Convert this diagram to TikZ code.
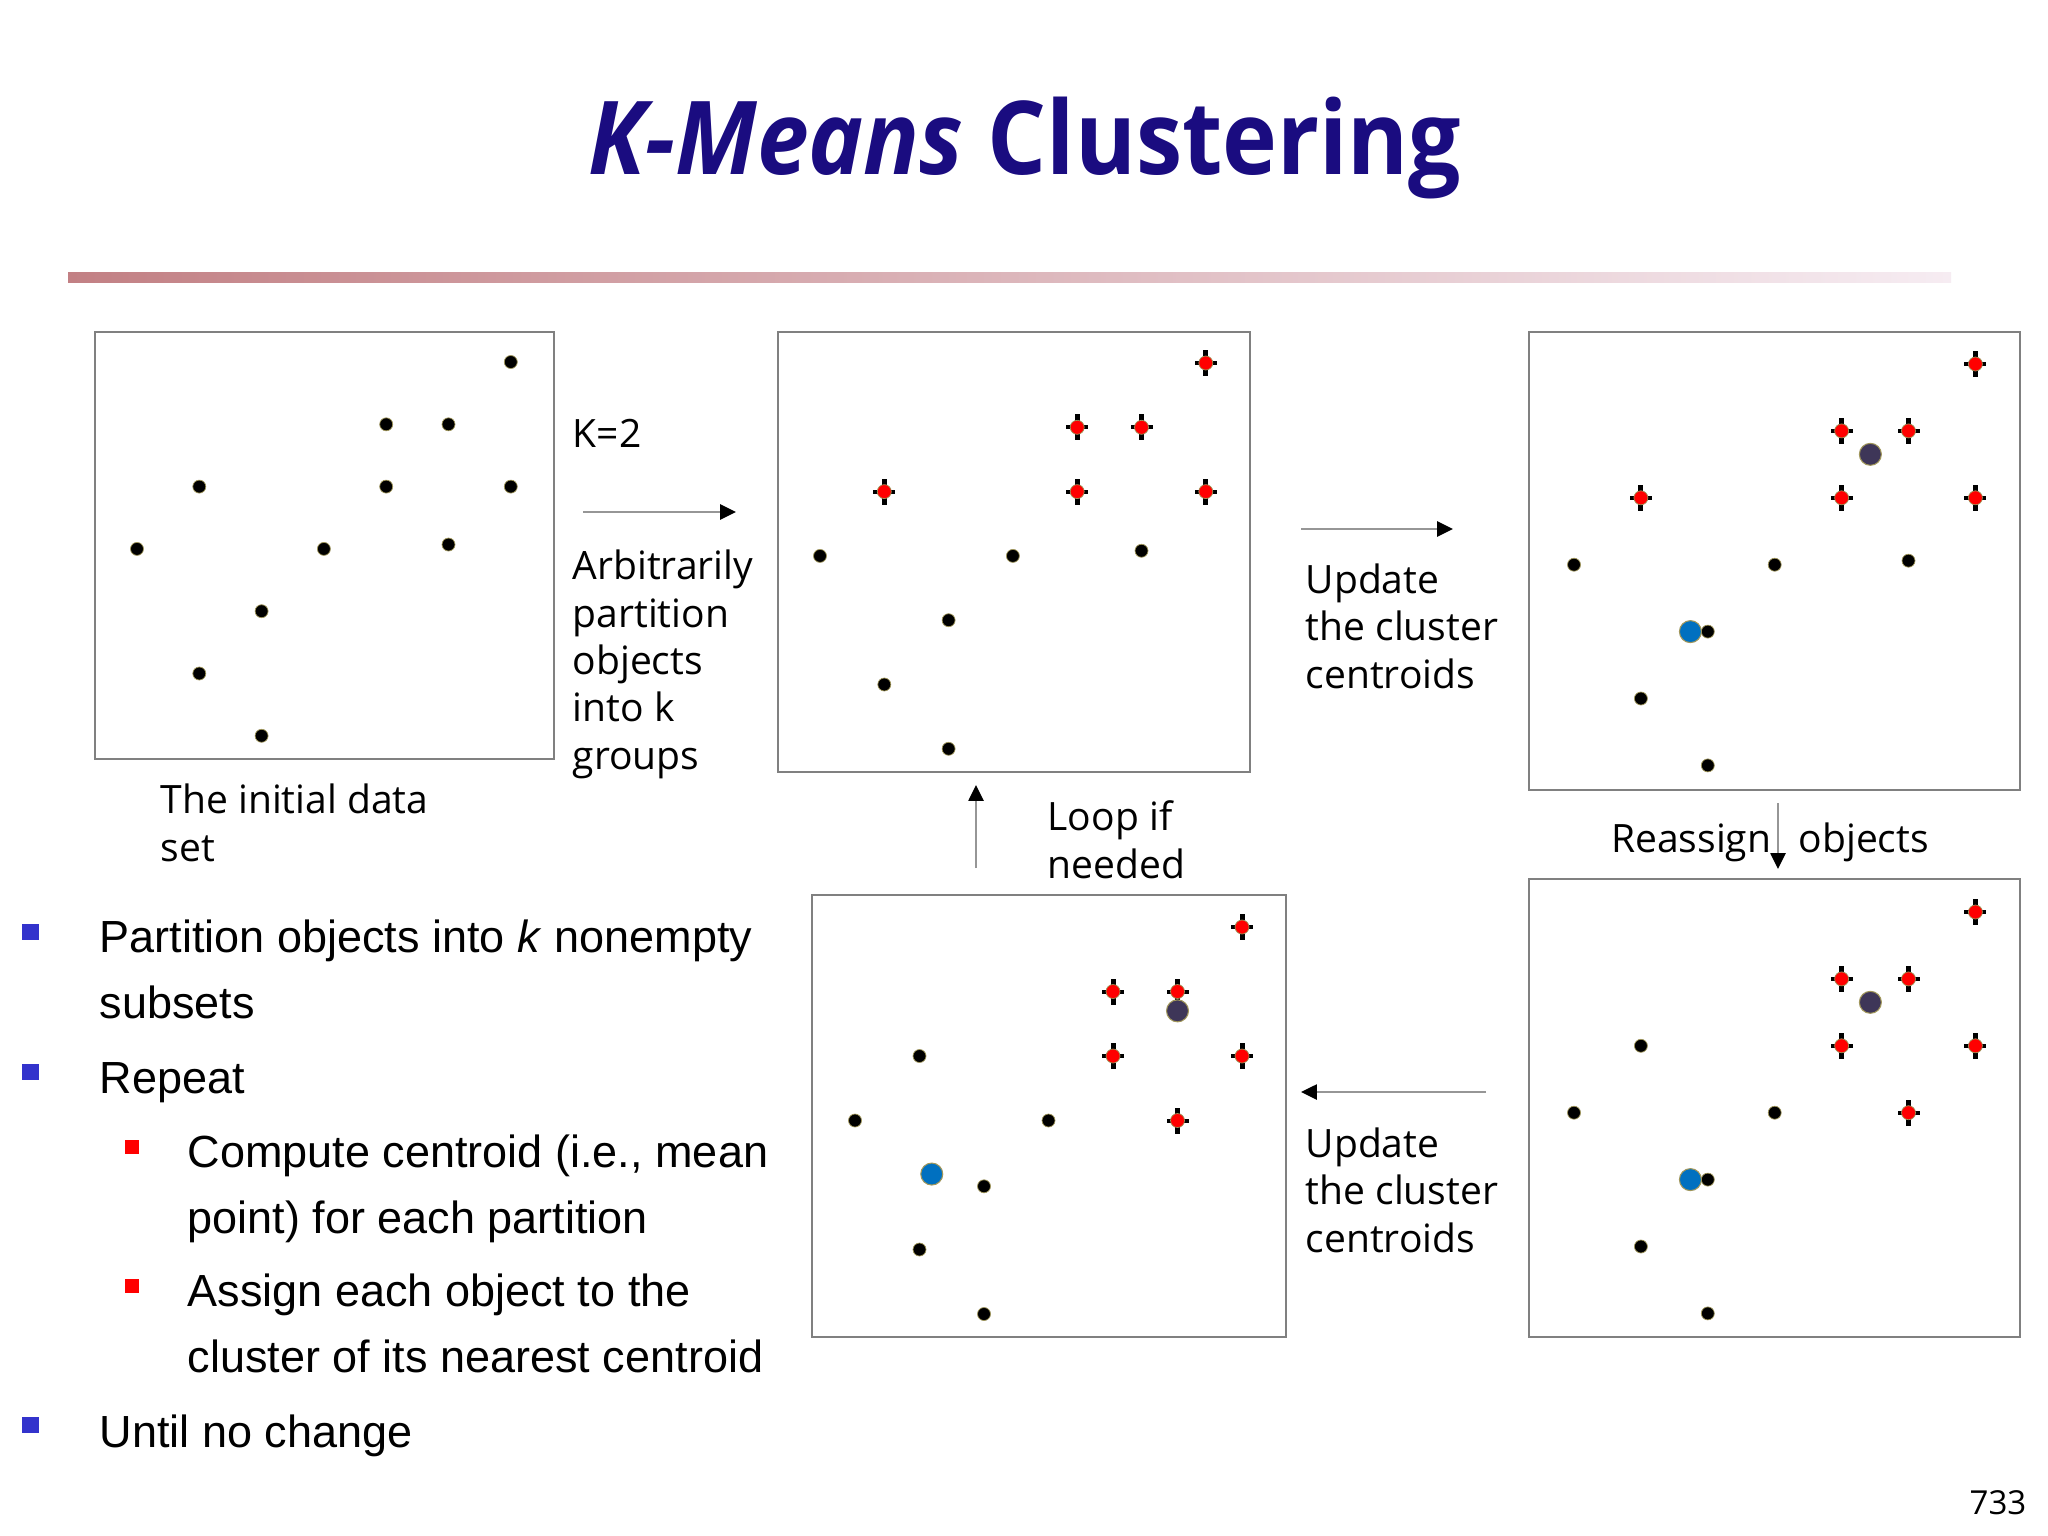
\documentclass[tikz,border=0pt]{standalone}
\usepackage{fontspec}
\setmainfont{Open Sans}
\newfontfamily\titlefont[FakeStretch=0.91]{Open Sans}
\newfontfamily\listfont{Liberation Sans}
\usetikzlibrary{arrows.meta,fit}

\definecolor{titleblue}{RGB}{26,12,128}
\definecolor{framegray}{RGB}{128,128,128}
\definecolor{linegray}{RGB}{150,150,150}
\definecolor{dotrim}{RGB}{160,150,90}
\definecolor{seedred}{RGB}{255,0,0}
\definecolor{meanpurple}{RGB}{62,54,88}
\definecolor{meanblue}{RGB}{0,112,192}
\definecolor{bulletblue}{RGB}{51,51,204}
\definecolor{barleft}{RGB}{194,128,132}
\definecolor{barright}{RGB}{246,236,242}

\begin{document}
\begin{tikzpicture}[
    x=0.01cm, y=-0.01cm,
    panel/.style={draw=framegray, line width=0.65pt, inner sep=0pt},
    arrow/.style={draw=linegray, line width=0.5pt, -{Triangle[length=4.5pt, width=4.3pt, color=black]}},
    label/.style={font=\fontsize{11.1}{13.45}\selectfont, align=left, anchor=base west, inner sep=0pt},
    item/.style={font=\listfont\fontsize{12.8}{18.5}\selectfont, align=left, anchor=base west, inner sep=0pt},
    obj/.pic={\fill[black, draw=dotrim, line width=0.2pt] (0,0) circle[radius=6.5];},
    seed/.pic={
        \fill[black] (-2.5,-13) rectangle (2.5,13);
        \fill[black] (-11,-2) rectangle (11,2);
        \fill[seedred, draw=dotrim, line width=0.2pt] (0,0) circle[radius=7];},
    oldmean/.pic={\fill[meanpurple, draw=dotrim, line width=0.3pt] (0,0) circle[radius=11];},
    newmean/.pic={\fill[meanblue, draw=dotrim, line width=0.3pt] (0,0) circle[radius=11];}
]
\fill[white] (0,0) rectangle (2048,1536);
\useasboundingbox (0,0) rectangle (2048,1536);

% title and bar
\node[anchor=base, inner sep=0pt, text=titleblue, font=\titlefont\bfseries\fontsize{29}{34}\selectfont] (title) at (1025,174) {\itshape K-Means\upshape{} Clustering};
\shade[left color=barleft, right color=barright] (68,272) rectangle (1951,282);

% panels
\node[panel, fit={(95,332) (554,759)}] (p1) {};
\node[panel, fit={(778,332) (1250,772)}] (p2) {};
\node[panel, fit={(1529,332) (2020,790)}] (p3) {};
\node[panel, fit={(1529,879) (2020,1337)}] (p4) {};
\node[panel, fit={(812,895) (1286,1337)}] (p5) {};

% initial data
\begin{scope}[shift={(137,362)}]
\def\gs{62.3}
\foreach \c/\r in {6/0,4/1,5/1,1/2,4/2,6/2,0/3,3/3,5/2.93,2/4,1/5,2/6}
    \pic at (\c*\gs,\r*\gs) {obj};
\end{scope}

% arbitrary partition
\begin{scope}[shift={(820,363)}]
\def\gs{64.3}
\foreach \c/\r in {6/0,4/1,5/1,1/2,4/2,6/2}
    \pic at (\c*\gs,\r*\gs) {seed};
\foreach \c/\r in {0/3,3/3,5/2.92,2/4,1/5,2/6}
    \pic at (\c*\gs,\r*\gs) {obj};
\end{scope}

% first update
\begin{scope}[shift={(1574,364)}]
\def\gs{66.9}
\foreach \c/\r in {6/0,4/1,5/1,1/2,4/2,6/2}
    \pic at (\c*\gs,\r*\gs) {seed};
\foreach \c/\r in {0/3,3/3,5/2.94,2/4,1/5,2/6}
    \pic at (\c*\gs,\r*\gs) {obj};
\pic at (4.43*\gs,1.35*\gs) {oldmean};
\pic at (1.74*\gs,4*\gs) {newmean};
\end{scope}

% reassigned
\begin{scope}[shift={(1574,912)}]
\def\gs{66.9}
\foreach \c/\r in {6/0,4/1,5/1,4/2,6/2,5/3}
    \pic at (\c*\gs,\r*\gs) {seed};
\foreach \c/\r in {1/2,0/3,3/3,2/4,1/5,2/6}
    \pic at (\c*\gs,\r*\gs) {obj};
\pic at (4.43*\gs,1.35*\gs) {oldmean};
\pic at (1.74*\gs,4*\gs) {newmean};
\end{scope}

% second update
\begin{scope}[shift={(855,927)}]
\def\gs{64.5}
\foreach \c/\r in {6/0,4/1,5/1,4/2,6/2,5/3}
    \pic at (\c*\gs,\r*\gs) {seed};
\foreach \c/\r in {1/2,0/3,3/3,2/4.02,1/5,2/6}
    \pic at (\c*\gs,\r*\gs) {obj};
\pic at (5*\gs,1.3*\gs) {oldmean};
\pic at (1.19*\gs,3.83*\gs) {newmean};
\end{scope}

% arrow ends
\coordinate (k2a) at (583,512);
\coordinate (k2b) at (736,512);
\coordinate (upa) at (1301,529);
\coordinate (upb) at (1453,529);
\coordinate (rsa) at (1778,803);
\coordinate (rsb) at (1778,869);
\coordinate (upc) at (1486,1092);
\coordinate (upd) at (1301,1092);
\coordinate (lpa) at (976,868);
\coordinate (lpb) at (976,785);

\draw[arrow] (k2a) -- (k2b);
\draw[arrow] (upa) -- (upb);
\draw[arrow] (rsa) -- (rsb);
\draw[arrow] (upc) -- (upd);
\draw[arrow] (lpa) -- (lpb);

% labels (base = last line)
\node[label] (kval) at (572,447) {K=2};
\node[label] (arb) at (572,769) {Arbitrarily\\partition\\objects\\into k\\groups};
\node[label] (init) at (160,861) {The initial data\\set};
\node[label] (upd1) at (1305,688) {Update\\the cluster\\centroids};
\node[label] (upd2) at (1305,1252) {Update\\the cluster\\centroids};
\node[label] (loop) at (1047,878) {Loop if\\needed};
\node[label, anchor=base] (reas) at (1770,852) {Reassign\hspace{0.7em}objects};
\node[label, anchor=base east, font=\fontsize{9.4}{11}\selectfont] (pgno) at (2027,1514) {733};

% bullet list
\fill[bulletblue] (22,924) rectangle (39,940);
\fill[bulletblue] (22,1064) rectangle (39,1080);
\fill[bulletblue] (22,1417) rectangle (39,1433);
\fill[seedred] (125,1140) rectangle (139,1154);
\fill[seedred] (125,1279) rectangle (139,1293);
\node[item] (b1) at (99,1018) {Partition objects into \textit{k} nonempty\\subsets};
\node[item] (b2) at (99,1093) {Repeat};
\node[item] (b3) at (187,1233) {Compute centroid (i.e., mean\\point) for each partition};
\node[item] (b4) at (187,1372) {Assign each object to the\\cluster of its nearest centroid};
\node[item] (b5) at (99,1447) {Until no change};
\end{tikzpicture}
\end{document}
